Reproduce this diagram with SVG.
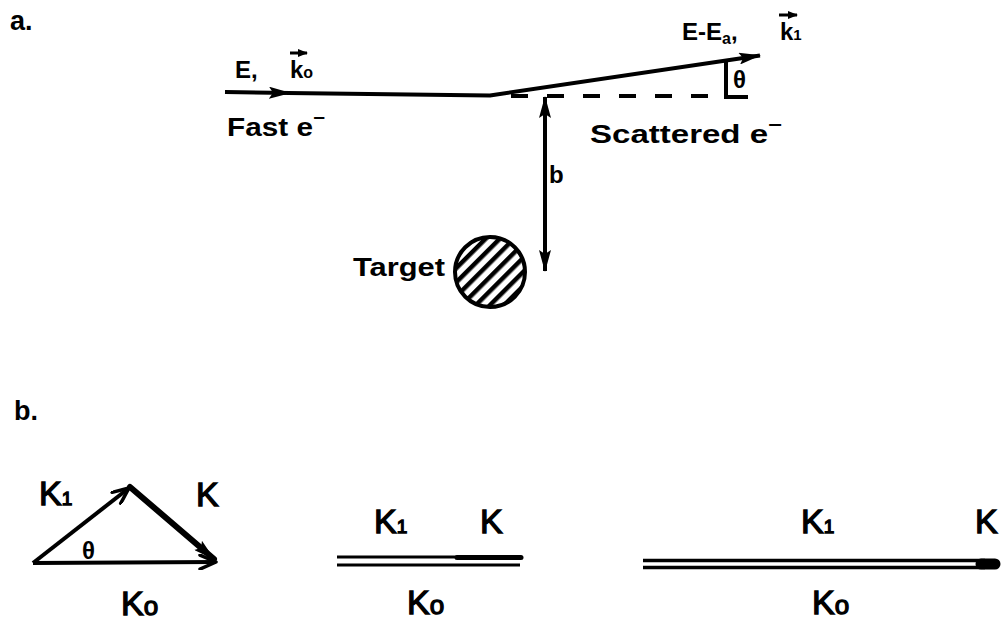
<svg xmlns="http://www.w3.org/2000/svg" width="1003" height="625" viewBox="0 0 1003 625">
<style>
.lbl{font-family:"Liberation Sans","DejaVu Sans",sans-serif;font-weight:bold;fill:#000}
.big{font-family:"Liberation Sans","DejaVu Sans",sans-serif;font-weight:normal;fill:#000;stroke:#000;stroke-width:1.3;font-size:34px}
.sub1{font-size:19px}
.subo{font-size:26px}
.ln{fill:none;stroke:#000;stroke-width:4}
.thin{fill:none;stroke:#000;stroke-width:3}
</style>
<defs>
<marker id="ah" viewBox="0 0 22 12" refX="21" refY="6" markerWidth="22" markerHeight="12" markerUnits="userSpaceOnUse" orient="auto-start-reverse">
<path d="M0,0 L22,6 L0,12 L4,6 z" fill="#000"/>
</marker>
<marker id="ahs" viewBox="0 0 10 8" refX="9" refY="4" markerWidth="10" markerHeight="8" markerUnits="userSpaceOnUse" orient="auto">
<path d="M0,0 L10,4 L0,8 z" fill="#000"/>
</marker>
<marker id="chev" viewBox="0 0 20 16" refX="18" refY="8" markerWidth="20" markerHeight="16" markerUnits="userSpaceOnUse" orient="auto">
<path d="M2,1 L18,8 L2,15" fill="none" stroke="#000" stroke-width="3.5" stroke-linejoin="round" stroke-linecap="round"/>
</marker>
<pattern id="hatch" width="10" height="10" patternUnits="userSpaceOnUse" patternTransform="rotate(45)">
<rect x="0" y="0" width="4.5" height="10" fill="#000"/>
</pattern>
</defs>
<rect width="1003" height="625" fill="#fff"/>

<!-- Part a -->
<g id="label-a"><text class="lbl" x="10" y="30" font-size="27">a.</text></g>

<g id="target">
<circle cx="490" cy="272" r="35" fill="url(#hatch)" stroke="#000" stroke-width="4"/>
<text class="lbl" x="353" y="276" font-size="26" textLength="92" lengthAdjust="spacingAndGlyphs">Target</text>
</g>

<g id="incident-labels">
<text class="lbl" x="235" y="78" font-size="24">E,</text>
<text class="lbl" x="290" y="78" font-size="24">k<tspan font-size="16">o</tspan></text>
<text class="lbl" x="227" y="136" font-size="26" textLength="98" lengthAdjust="spacingAndGlyphs">Fast e<tspan dy="-12" font-size="18">−</tspan></text>
</g>

<g id="scattered-labels">
<text class="lbl" x="682" y="40" font-size="24">E-E<tspan dy="4" font-size="16">a</tspan><tspan dy="-4">,</tspan></text>
<text class="lbl" x="780" y="40" font-size="24">k<tspan font-size="15">1</tspan></text>
<text class="lbl" x="590" y="143" font-size="25" textLength="192" lengthAdjust="spacingAndGlyphs">Scattered e<tspan dy="-12" font-size="18">−</tspan></text>
<text class="lbl" x="733" y="88" font-size="24" font-weight="normal">θ</text>
</g>

<g id="impact-label"><text class="lbl" x="549" y="183" font-size="24">b</text></g>

<g id="connectors-a">
<path class="ln" d="M225,92 L290,93" marker-end="url(#ah)"/>
<path class="ln" d="M288,93 L490,95.5 L760,55.5" stroke-linejoin="round" marker-end="url(#ah)"/>
<path class="ln" d="M511,96 L710,96" stroke-dasharray="17 19"/>
<path class="ln" d="M726,62 L726,97 L748,97"/>
<path class="ln" d="M545,97 L545,271" marker-start="url(#ah)" marker-end="url(#ah)"/>
<path class="thin" d="M290,53 L307,53" marker-end="url(#ahs)"/>
<path class="thin" d="M779,15 L797,15" marker-end="url(#ahs)"/>
</g>

<!-- Part b -->
<g id="label-b"><text class="lbl" x="14" y="420" font-size="27">b.</text></g>

<g id="triangle">
<text class="big" x="39" y="505">K<tspan class="sub1">1</tspan></text>
<text class="big" x="196" y="506">K</text>
<text class="lbl" x="82" y="559" font-size="24" font-weight="normal">θ</text>
<text class="big" x="121" y="615">K<tspan class="subo">o</tspan></text>
</g>

<g id="parallel-mid">
<text class="big" x="374" y="533">K<tspan class="sub1">1</tspan></text>
<text class="big" x="480" y="533">K</text>
<text class="big" x="407" y="614">K<tspan class="subo">o</tspan></text>
</g>

<g id="parallel-right">
<text class="big" x="801" y="533">K<tspan class="sub1">1</tspan></text>
<text class="big" x="975" y="533">K</text>
<text class="big" x="812" y="614">K<tspan class="subo">o</tspan></text>
</g>

<g id="connectors-b">
<path class="ln" d="M33,563 L216,562" marker-end="url(#chev)"/>
<path class="ln" d="M33,563 L129,488" marker-end="url(#chev)"/>
<path fill="none" stroke="#000" stroke-width="6" stroke-linecap="round" d="M130,487 L214,559" marker-end="url(#ah)"/>
<path class="thin" d="M337,557 L460,557"/>
<path fill="none" stroke="#000" stroke-width="5" d="M457,557.5 L521,557.5" stroke-linecap="round"/>
<path class="thin" d="M337,565 L520,565"/>
<path fill="none" stroke="#000" stroke-width="3.5" d="M643,560.5 L985,560.5"/>
<path fill="none" stroke="#000" stroke-width="3.5" d="M643,567.5 L985,567.5"/>
<path fill="none" stroke="#000" stroke-width="11" stroke-linecap="round" d="M981,564 L995,564"/>
</g>
</svg>
